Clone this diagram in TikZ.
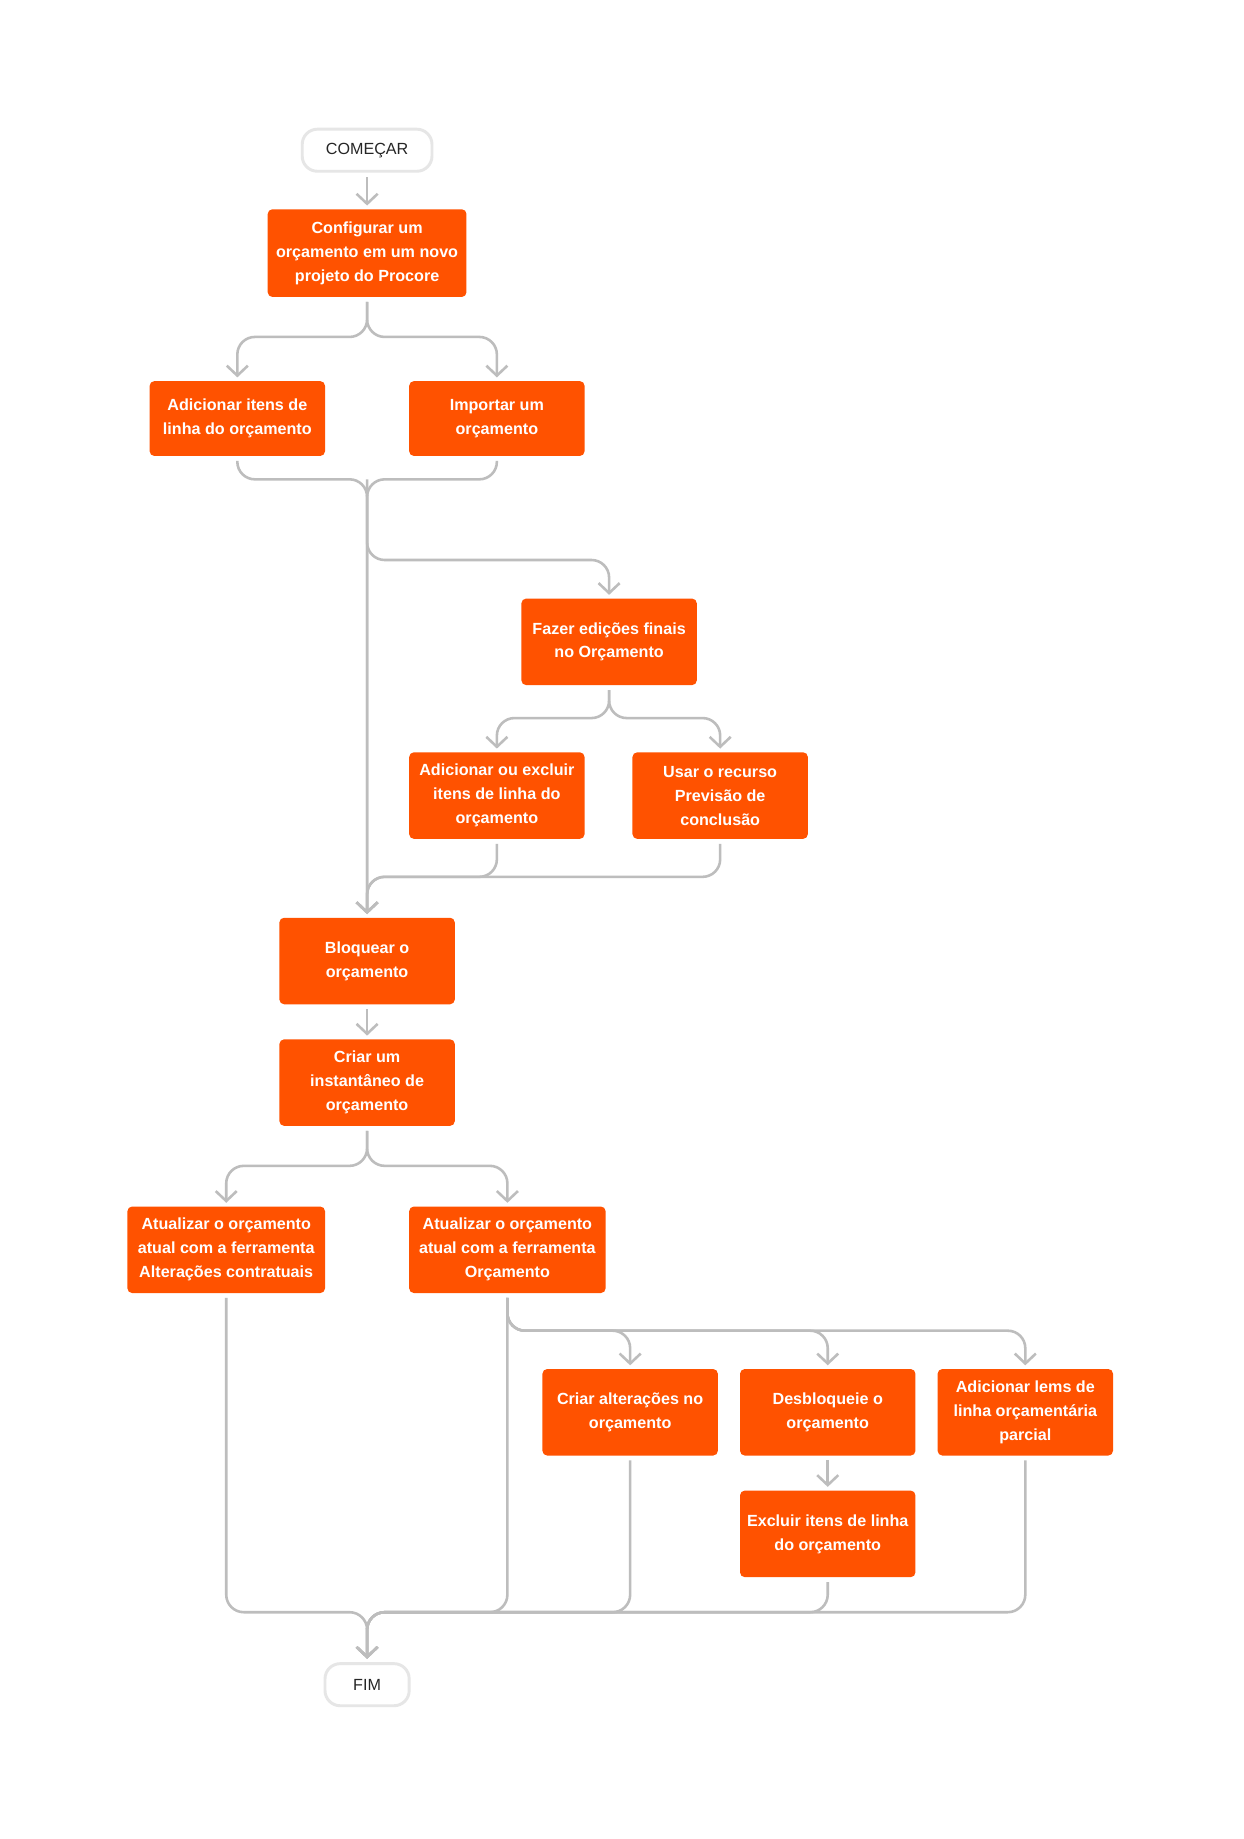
\documentclass[tikz,border=0pt]{standalone}
\usepackage{fontspec}
\setmainfont{Liberation Sans}
\usetikzlibrary{arrows.meta}
\definecolor{procore}{HTML}{FF5200}
\definecolor{seta}{HTML}{BDBDBD}
\definecolor{borda}{HTML}{E6E6E6}
\definecolor{texto}{HTML}{262626}

\begin{document}
\begin{tikzpicture}[x=1pt,y=-1pt,
		etapa/.style={fill=procore, text=white, rounded corners=4pt, minimum width=150pt, minimum height=74pt, inner sep=0pt, align=center, font=\fontsize{13.8}{20.5}\selectfont\bfseries},
		terminal/.style={draw=borda, line width=2.5pt, fill=white, rounded corners=13pt, minimum width=111pt, minimum height=36pt, inner sep=0pt, text=texto, font=\fontsize{13.8}{16}\selectfont},
		fluxo/.style={draw=seta, line width=2.2pt, rounded corners=15pt, shorten <=4pt, shorten >=3pt, -{Straight Barb[length=8.5pt,width=18pt]}}]
			\path[use as bounding box, fill=white] (0,0) rectangle (1064,1573);

			% Etapas
			\node[terminal] (inicio) at (314,128.5) {COMEÇAR};
			\node[etapa, minimum width=170pt, minimum height=75pt] (config) at (314,216.5) {Configurar um\\orçamento em um novo\\projeto do Procore};
			\node[etapa, minimum height=64pt] (itens) at (203,358) {Adicionar itens de\\linha do orçamento};
			\node[etapa, minimum height=64pt] (importar) at (425,358) {Importar um\\orçamento};
			\node[etapa] (edicoes) at (521,549) {Fazer edições finais\\no Orçamento};
			\node[etapa] (excluir) at (425,680.5) {Adicionar ou excluir\\itens de linha do\\orçamento};
			\node[etapa] (previsao) at (616,680.5) {Usar o recurso\\Previsão de\\conclusão};
			\node[etapa] (bloquear) at (314,822) {Bloquear o\\orçamento};
			\node[etapa] (instantaneo) at (314,926) {Criar um\\instantâneo de\\orçamento};
			\node[etapa, minimum width=169pt] (contratuais) at (193.5,1069) {Atualizar o orçamento\\atual com a ferramenta\\Alterações contratuais};
			\node[etapa, minimum width=168pt] (ferramenta) at (434,1069) {Atualizar o orçamento\\atual com a ferramenta\\Orçamento};
			\node[etapa] (alteracoes) at (539,1208) {Criar alterações no\\orçamento};
			\node[etapa] (desbloqueie) at (708,1208) {Desbloqueie o\\orçamento};
			\node[etapa] (parcial) at (877,1208) {Adicionar lems de\\linha orçamentária\\parcial};
			\node[etapa] (linhas) at (708,1312) {Excluir itens de linha\\do orçamento};
			\node[terminal, minimum width=72pt, minimum height=36pt] (fim) at (314,1441) {FIM};

			% Pontos de junção
			\coordinate (m1) at (314,410);
			\coordinate (m2) at (314,750);
			\coordinate (m3) at (314,1379);

			% Início
			\draw[fluxo] (inicio) -- (config);
			\draw[fluxo] (config.south) -- ++(0,34) -| (itens.north);
			\draw[fluxo] (config.south) -- ++(0,34) -| (importar.north);

			% Tronco
			\draw[fluxo] (itens.south) |- (m1) -- (bloquear.north);
			\draw[fluxo] (importar.south) |- (m1) -- (bloquear.north);
			\draw[fluxo, shorten <=0pt] (m1) -- ++(0,69) -| (edicoes.north);

			% Edições finais
			\draw[fluxo] (edicoes.south) -- ++(0,28) -| (excluir.north);
			\draw[fluxo] (edicoes.south) -- ++(0,28) -| (previsao.north);
			\draw[fluxo] (excluir.south) |- (m2) -- (bloquear.north);
			\draw[fluxo] (previsao.south) |- (m2) -- (bloquear.north);

			% Instantâneo
			\draw[fluxo] (bloquear) -- (instantaneo);
			\draw[fluxo] (instantaneo.south) -- ++(0,34) -| (contratuais.north);
			\draw[fluxo] (instantaneo.south) -- ++(0,34) -| (ferramenta.north);

			% Ferramenta Orçamento
			\foreach \alvo in {alteracoes,desbloqueie,parcial}{
					\draw[fluxo] (ferramenta.south) -- ++(0,32) -| (\alvo.north);
				}
			\draw[fluxo] (desbloqueie) -- (linhas);

			% Fim
			\foreach \origem in {contratuais,ferramenta,alteracoes,linhas,parcial}{
					\draw[fluxo] (\origem.south) |- (m3) -- (fim.north);
				}
		\end{tikzpicture}
\end{document}
